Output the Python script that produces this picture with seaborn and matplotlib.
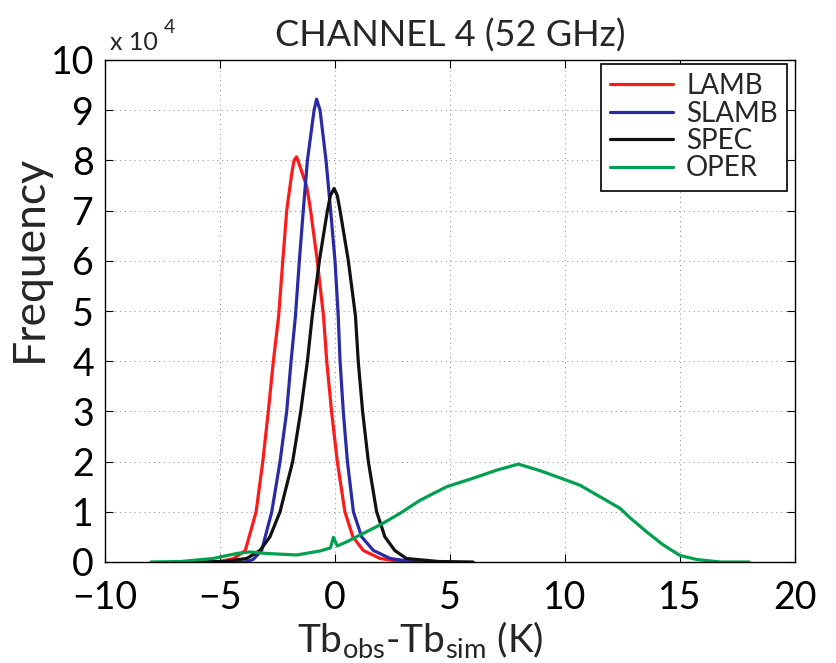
import matplotlib

matplotlib.use("Agg")
import matplotlib.pyplot as plt
import pandas as pd
import seaborn as sns

# Frequency in units of 1e4
lamb_x = [-6.0, -5.0, -4.4, -3.9, -3.43, -3.14, -2.9, -2.68, -2.45, -2.27, -2.1, -1.88, -1.78, -1.67,
          -1.5, -1.23, -1.06, -0.77, -0.5, -0.36, -0.15, 0.1, 0.43, 0.78, 1.23, 1.96, 2.8, 4.0]
lamb_y = [0.0, 0.01, 0.07, 0.23, 1.0, 2.0, 3.0, 4.0, 4.9, 6.0, 7.0, 7.74, 8.0, 8.07,
          7.85, 7.48, 7.0, 6.0, 4.9, 4.0, 3.0, 2.0, 1.0, 0.5, 0.23, 0.07, 0.01, 0.0]

slamb_x = [-5.0, -3.9, -3.56, -3.19, -2.75, -2.39, -2.1, -1.91, -1.72, -1.55, -1.38, -1.2, -0.91, -0.8,
           -0.65, -0.39, -0.19, 0.0, 0.14, 0.22, 0.36, 0.54, 0.8, 1.16, 1.67, 2.4, 3.3, 4.5]
slamb_y = [0.0, 0.0, 0.05, 0.23, 1.0, 2.0, 3.0, 4.0, 4.9, 6.0, 7.0, 8.0, 9.0, 9.22,
           9.0, 8.0, 7.0, 6.0, 4.9, 4.0, 3.0, 2.0, 1.0, 0.5, 0.23, 0.07, 0.01, 0.0]

spec_x = [-6.5, -4.8, -3.84, -3.26, -2.83, -2.39, -1.84, -1.49, -1.2, -0.99, -0.68, -0.33, -0.2, -0.04,
          0.1, 0.22, 0.58, 0.89, 1.01, 1.2, 1.45, 1.81, 2.17, 2.6, 3.1, 4.5, 6.0]
spec_y = [0.0, 0.01, 0.07, 0.23, 0.5, 1.0, 2.0, 3.0, 4.0, 4.9, 6.0, 7.0, 7.3, 7.44,
          7.3, 7.0, 6.0, 4.9, 4.0, 3.0, 2.0, 1.0, 0.5, 0.23, 0.07, 0.01, 0.0]

oper_x = [-8.0, -6.7, -5.3, -4.27, -3.7, -2.97, -1.67, -0.65, -0.2, -0.07, 0.1, 0.5, 1.23, 2.0,
          2.83, 3.7, 4.86, 6.01, 7.03, 7.97, 8.91, 9.64, 10.65, 11.52, 12.39, 12.83, 13.55, 14.27,
          15.0, 15.73, 16.74, 18.0]
oper_y = [0.0, 0.01, 0.07, 0.17, 0.2, 0.17, 0.14, 0.22, 0.28, 0.49, 0.32, 0.4, 0.57, 0.75,
          0.97, 1.23, 1.5, 1.67, 1.83, 1.95, 1.82, 1.7, 1.53, 1.3, 1.07, 0.88, 0.6, 0.34,
          0.13, 0.05, 0.0, 0.0]

series_names = ["LAMB", "SLAMB", "SPEC", "OPER"]
palette = {"LAMB": "#ff1a1a", "SLAMB": "#2a2aa6", "SPEC": "#111111", "OPER": "#00a04f"}

sns.set_style("ticks")
plt.rcParams["font.family"] = ["Lato", "DejaVu Sans"]
plt.rcParams["mathtext.fontset"] = "custom"
plt.rcParams["mathtext.rm"] = "Lato"
plt.rcParams["mathtext.it"] = "Lato:italic"

frames = []
for name, xs, ys in zip(series_names, [lamb_x, slamb_x, spec_x, oper_x], [lamb_y, slamb_y, spec_y, oper_y]):
    frames.append(pd.DataFrame({"x": xs, "y": ys, "run": name}))
df = pd.concat(frames, ignore_index=True)

fig = plt.figure(figsize=(8.37, 6.63), dpi=100)
ax = fig.add_axes([105 / 837, 1 - 562 / 663, 690 / 837, 502 / 663])

sns.lineplot(data=df, x="x", y="y", hue="run", hue_order=series_names, palette=palette,
             sort=False, estimator=None, linewidth=2.3, ax=ax)

ax.set_xlim(-10, 20)
ax.set_ylim(0, 10)
ax.set_xticks(range(-10, 21, 5))
ax.set_yticks(range(0, 11))
ax.grid(True, linestyle=(0, (1, 4)), color="#8a8a8a", linewidth=0.7)
ax.tick_params(direction="in", length=6, width=0.8, top=True, right=True, labelsize=27,
               colors="black")
ax.tick_params(axis="x", pad=13)
ax.tick_params(axis="y", pad=8)
for spine in ax.spines.values():
    spine.set_visible(True)
    spine.set_color("black")
    spine.set_linewidth(1.0)

ax.set_title("CHANNEL 4 (52 GHz)", fontsize=26, pad=10)
ax.set_ylabel("Frequency", fontsize=32)
ax.yaxis.set_label_coords(-0.08, 0.604)
ax.set_xlabel(r"Tb$_{\mathrm{obs}}$-Tb$_{\mathrm{sim}}$ (K)", fontsize=28)
ax.xaxis.label.set_horizontalalignment("left")
ax.xaxis.set_label_coords(0.278, -0.113)

fig.text(110 / 837, 1 - 50 / 663, "x 10", fontsize=18, va="baseline")
fig.text(164 / 837, 1 - 33 / 663, "4", fontsize=14, va="baseline")

handles, labels = ax.get_legend_handles_labels()
leg = ax.legend(handles, labels, loc="upper right", bbox_to_anchor=(0.9884, 0.992), borderaxespad=0,
                fontsize=20, frameon=True, fancybox=False, edgecolor="black", framealpha=1,
                labelspacing=0.05, handlelength=2.27, handletextpad=0.47, borderpad=0.33)
leg.get_frame().set_linewidth(1.2)
for line in leg.get_lines():
    line.set_linewidth(2.3)

fig.savefig("out.png", dpi=100)
